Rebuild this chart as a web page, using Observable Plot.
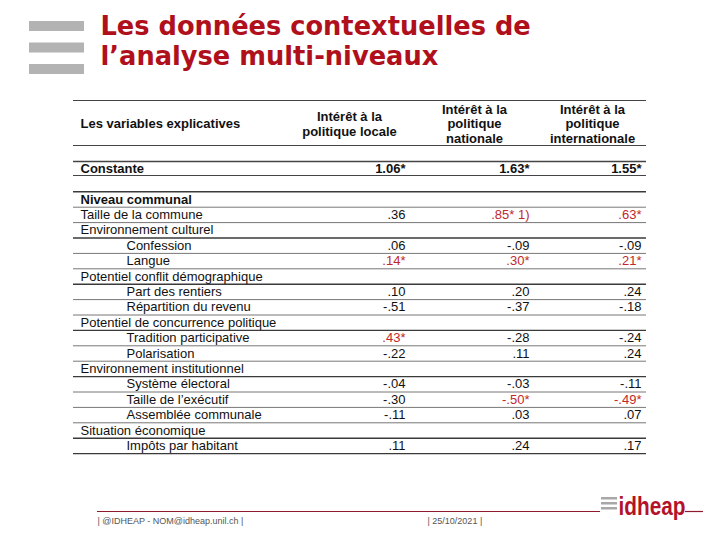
<!DOCTYPE html>
<html><head><meta charset="utf-8">
<script src="https://cdn.jsdelivr.net/npm/d3@7"></script>
<script src="https://cdn.jsdelivr.net/npm/@observablehq/plot@0.6"></script>
<style>body{margin:0;background:#fff}svg{display:block}</style>
</head><body><div id="chart"></div>
<script>
// ---- data ----
const titleLines = ["Les données contextuelles de", "l’analyse multi-niveaux"];
const rowHeader = "Les variables explicatives";
const columns = ["Intérêt à la\npolitique locale", "Intérêt à la\npolitique\nnationale", "Intérêt à la\npolitique\ninternationale"];
const constLabel = "Constante";
const constValues = ["1.06*", "1.63*", "1.55*"];
const variables = ["Niveau communal", "Taille de la commune", "Environnement culturel", "Confession", "Langue",
  "Potentiel conflit démographique", "Part des rentiers", "Répartition du revenu",
  "Potentiel de concurrence politique", "Tradition participative", "Polarisation",
  "Environnement institutionnel", "Système électoral", "Taille de l’exécutif", "Assemblée communale",
  "Situation économique", "Impôts par habitant"];
const levels = [0, 0, 0, 1, 1, 0, 1, 1, 0, 1, 1, 0, 1, 1, 1, 0, 1];
const locale = ["", ".36", "", ".06", ".14*", "", ".10", "-.51", "", ".43*", "-.22", "", "-.04", "-.30", "-.11", "", ".11"];
const nationale = ["", ".85* 1)", "", "-.09", ".30*", "", ".20", "-.37", "", "-.28", ".11", "", "-.03", "-.50*", ".03", "", ".24"];
const internationale = ["", ".63*", "", "-.09", ".21*", "", ".24", "-.18", "", "-.24", ".24", "", "-.11", "-.49*", ".07", "", ".17"];
const footerLeft = "| @IDHEAP - NOM@idheap.unil.ch |";
const footerDate = "| 25/10/2021 |";
const logoText = "idheap";

// ---- layout ----
const W = 720, H = 540;
const RED = "#b0101c", SIG = "#c0282d", FONT = "Liberation Sans, Arial, sans-serif";
const tableX1 = 73, tableX2 = 646;
const labelX = 80, indentX = 126;
const colRight = [405, 529, 641];
const colCenter = [349, 474, 592];
const row0 = 199, step = 15.4;
const rows = variables.map((label, i) => ({
  label, level: levels[i], y: row0 + i * step,
  values: [locale[i], nationale[i], internationale[i]]
}));
const cells = rows.flatMap(r => r.values.map((v, j) => ({v, x: colRight[j], y: r.y})).filter(c => c.v !== ""));
const rowLines = d3.range(variables.length + 1).map(i => ({y: row0 - step / 2 + i * step,
  strong: i === 0 || i === variables.length || (i < variables.length && levels[i] === 1 && levels[i - 1] === 0)}));
const topLines = [{y: 100, w: 1.2}, {y: 145, w: 1}, {y: 161, w: 1.6}, {y: 175, w: 1}];

const chart = Plot.plot({
  width: W, height: H, margin: 0,
  style: {fontFamily: FONT, background: "#fff"},
  x: {type: "linear", domain: [0, W], range: [0, W], axis: null},
  y: {type: "linear", domain: [0, H], range: [0, H], axis: null},
  marks: [
    // header decoration bars
    Plot.rect([0, 1, 2], {x1: 29, x2: 84, y1: d => 21 + d * 21.5, y2: d => 31 + d * 21.5, fill: "#b3b3b3"}),
    Plot.text(titleLines, {x: 100, y: (d, i) => 34 + i * 30, text: d => d, textAnchor: "start", lineAnchor: "bottom",
      fontSize: 25.7, fontWeight: "bold", fill: RED, fontFamily: "DejaVu Sans, Verdana, sans-serif"}),
    // table rules
    Plot.ruleY(topLines, {y: "y", x1: tableX1, x2: tableX2, stroke: "#444", strokeWidth: d => d.w}),
    Plot.ruleY(rowLines, {y: "y", x1: tableX1, x2: tableX2, stroke: d => d.strong ? "#3a3a3a" : "#777", strokeWidth: d => d.strong ? 1.4 : 1}),
    // header
    Plot.text([rowHeader], {x: labelX, y: 123, text: d => d, textAnchor: "start", fontSize: 13, fontWeight: "bold", fill: "#111"}),
    Plot.text(columns, {x: (d, i) => colCenter[i], y: 123, text: d => d, textAnchor: "middle", lineAnchor: "middle",
      lineHeight: 1.13, fontSize: 13, fontWeight: "bold", fill: "#111"}),
    // constante
    Plot.text([constLabel], {x: labelX, y: 168, text: d => d, textAnchor: "start", fontSize: 13, fontWeight: "bold", fill: "#111"}),
    Plot.text(constValues, {x: (d, i) => colRight[i], y: 168, text: d => d, textAnchor: "end", fontSize: 13, fontWeight: "bold", fill: "#111"}),
    // variable labels
    Plot.text(rows.filter((r, i) => i === 0), {x: labelX, y: "y", text: "label", textAnchor: "start", fontSize: 13, fontWeight: "bold", fill: "#111"}),
    Plot.text(rows.filter((r, i) => i > 0), {x: d => d.level ? indentX : labelX, y: "y", text: "label", textAnchor: "start", fontSize: 13, fill: "#111"}),
    // values
    Plot.text(cells.filter(c => !c.v.includes("*")), {x: "x", y: "y", text: "v", textAnchor: "end", fontSize: 13, fill: "#111"}),
    Plot.text(cells.filter(c => c.v.includes("*")), {x: "x", y: "y", text: "v", textAnchor: "end", fontSize: 13, fill: SIG}),
    // footer
    Plot.ruleY([{x1: 97, x2: 600}, {x1: 685, x2: 703}], {y: 511, x1: "x1", x2: "x2", stroke: "#8e1b2b", strokeWidth: 1.2}),
    Plot.text([footerLeft], {x: 97, y: 521, text: d => d, textAnchor: "start", fontSize: 9, fill: "#555"}),
    Plot.text([footerDate], {x: 427, y: 521, text: d => d, textAnchor: "start", fontSize: 9, fill: "#555"}),
    Plot.rect([0, 1, 2], {x1: 601, x2: 617, y1: d => 497 + d * 5, y2: d => 499.5 + d * 5, fill: "#a8a8a8"}),
    Plot.text([logoText], {x: 618, y: 514, text: d => d, textAnchor: "start", lineAnchor: "bottom", fontSize: 25, fontWeight: "bold",
      fill: "#b3132a"})
  ]
});
d3.select(chart).selectAll("text").filter(function () { return this.textContent === logoText; })
  .attr("textLength", 67).attr("lengthAdjust", "spacingAndGlyphs");
document.getElementById("chart").appendChild(chart);
</script>
</body></html>
